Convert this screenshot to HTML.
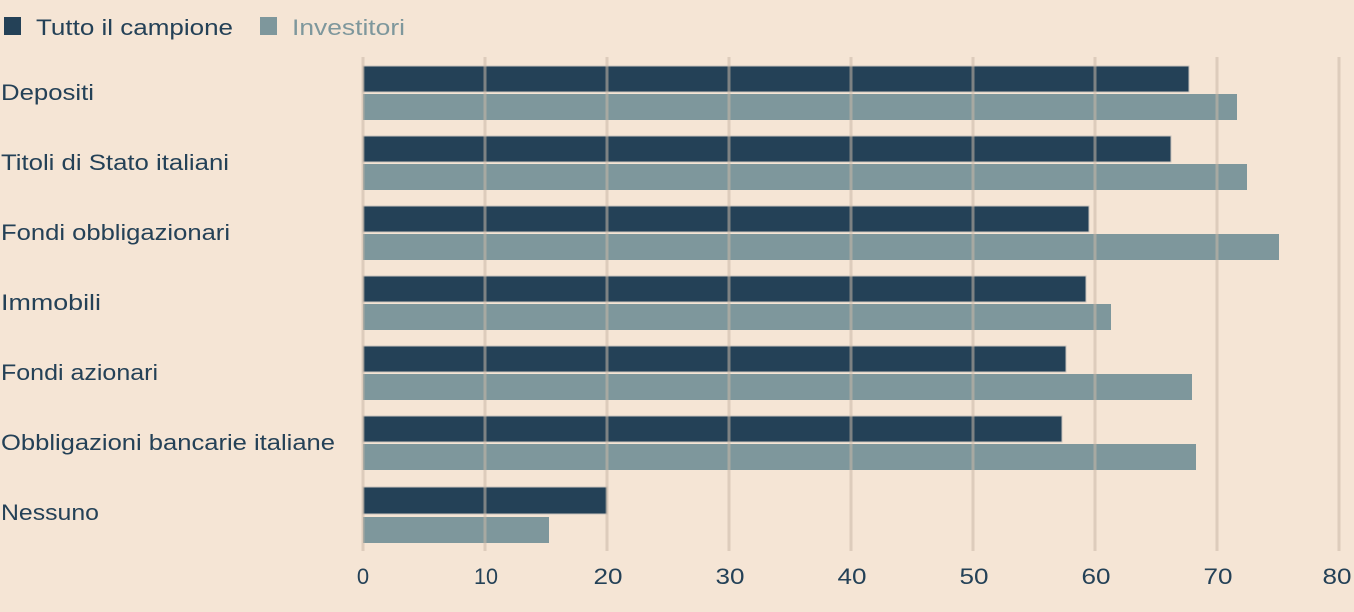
<!DOCTYPE html>
<html><head><meta charset="utf-8"><style>
html,body{margin:0;padding:0;background:#f5e5d5;}
svg{display:block;font-family:"Liberation Sans",sans-serif;}
</style></head><body>
<svg width="1354" height="612" viewBox="0 0 1354 612">
<rect width="1354" height="612" fill="#f5e5d5"/>
<rect x="4" y="17" width="17" height="18" fill="#244157"/>
<text x="36" y="35" font-size="22" fill="#244157" textLength="197" lengthAdjust="spacingAndGlyphs">Tutto il campione</text>
<rect x="260" y="17" width="17" height="18" fill="#7e979c"/>
<text x="292" y="35" font-size="22" fill="#7e979c" textLength="113" lengthAdjust="spacingAndGlyphs">Investitori</text>
<g font-size="22" fill="#244157" lengthAdjust="spacingAndGlyphs">
<text x="1" y="100" textLength="93" lengthAdjust="spacingAndGlyphs">Depositi</text>
<text x="1" y="170" textLength="228" lengthAdjust="spacingAndGlyphs">Titoli di Stato italiani</text>
<text x="1" y="240" textLength="229" lengthAdjust="spacingAndGlyphs">Fondi obbligazionari</text>
<text x="1" y="310" textLength="100" lengthAdjust="spacingAndGlyphs">Immobili</text>
<text x="1" y="380" textLength="157" lengthAdjust="spacingAndGlyphs">Fondi azionari</text>
<text x="1" y="450" textLength="334" lengthAdjust="spacingAndGlyphs">Obbligazioni bancarie italiane</text>
<text x="1" y="520" textLength="98" lengthAdjust="spacingAndGlyphs">Nessuno</text>
</g>
<g>
<rect x="363" y="66" width="826" height="26" fill="#244157" stroke="#c9c4bd" stroke-width="1"/>
<rect x="363" y="94" width="874" height="26" fill="#7e979c"/>
<rect x="363" y="136" width="808" height="26" fill="#244157" stroke="#c9c4bd" stroke-width="1"/>
<rect x="363" y="164" width="884" height="26" fill="#7e979c"/>
<rect x="363" y="206" width="726" height="26" fill="#244157" stroke="#c9c4bd" stroke-width="1"/>
<rect x="363" y="234" width="916" height="26" fill="#7e979c"/>
<rect x="363" y="276" width="723" height="26" fill="#244157" stroke="#c9c4bd" stroke-width="1"/>
<rect x="363" y="304" width="748" height="26" fill="#7e979c"/>
<rect x="363" y="346" width="703" height="26" fill="#244157" stroke="#c9c4bd" stroke-width="1"/>
<rect x="363" y="374" width="829" height="26" fill="#7e979c"/>
<rect x="363" y="416" width="699" height="26" fill="#244157" stroke="#c9c4bd" stroke-width="1"/>
<rect x="363" y="444" width="833" height="26" fill="#7e979c"/>
<rect x="363" y="487" width="244" height="27" fill="#244157" stroke="#c9c4bd" stroke-width="1"/>
<rect x="363" y="517" width="186" height="26" fill="#7e979c"/>
</g>
<g stroke="#c8b8a8" stroke-opacity="0.55" stroke-width="3">
<line x1="363" y1="57" x2="363" y2="551"/>
<line x1="485" y1="57" x2="485" y2="551"/>
<line x1="607" y1="57" x2="607" y2="551"/>
<line x1="729" y1="57" x2="729" y2="551"/>
<line x1="851" y1="57" x2="851" y2="551"/>
<line x1="973" y1="57" x2="973" y2="551"/>
<line x1="1095" y1="57" x2="1095" y2="551"/>
<line x1="1217" y1="57" x2="1217" y2="551"/>
<line x1="1339" y1="57" x2="1339" y2="551"/>
</g>
<g font-size="22" fill="#244157" text-anchor="middle">
<text x="363" y="584">0</text>
<text x="486" y="584" textLength="24" lengthAdjust="spacingAndGlyphs">10</text>
<text x="608" y="584" textLength="29" lengthAdjust="spacingAndGlyphs">20</text>
<text x="730" y="584" textLength="29" lengthAdjust="spacingAndGlyphs">30</text>
<text x="852" y="584" textLength="29" lengthAdjust="spacingAndGlyphs">40</text>
<text x="974" y="584" textLength="29" lengthAdjust="spacingAndGlyphs">50</text>
<text x="1096" y="584" textLength="29" lengthAdjust="spacingAndGlyphs">60</text>
<text x="1218" y="584" textLength="29" lengthAdjust="spacingAndGlyphs">70</text>
<text x="1337" y="584" textLength="29" lengthAdjust="spacingAndGlyphs">80</text>
</g>
</svg>
</body></html>
